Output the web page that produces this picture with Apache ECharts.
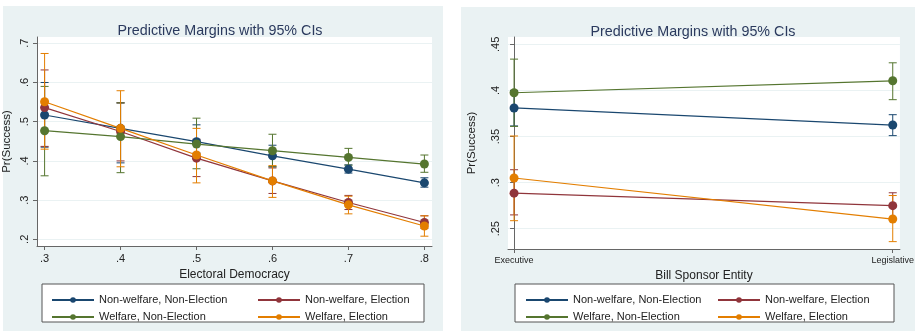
<!DOCTYPE html>
<html><head><meta charset="utf-8">
<script src="https://cdn.jsdelivr.net/npm/echarts@6/dist/echarts.min.js"></script>
<style>html,body{margin:0;padding:0;background:#fff;}#c{width:917px;height:332px;}</style>
</head><body><div id="c"></div>
<script>
// ---------- data ----------
const seriesNames = ['Non-welfare, Non-Election','Non-welfare, Election','Welfare, Non-Election','Welfare, Election'];
const colors = ['#1a476f','#90353b','#55752f','#e37e00'];

// Left panel: Electoral Democracy
const demX = [0.3,0.4,0.5,0.6,0.7,0.8];
const demXLabels = ['.3','.4','.5','.6','.7','.8'];
const demYTicks = [0.2,0.3,0.4,0.5,0.6,0.7];
const demYLabels = ['.2','.3','.4','.5','.6','.7'];
const demNN = [0.517,0.483,0.449,0.413,0.379,0.344];
const demNN_lo = [0.435,0.395,0.420,0.385,0.369,0.333];
const demNN_hi = [0.600,0.548,0.492,0.440,0.390,0.357];
const demNE = [0.536,0.475,0.407,0.349,0.294,0.243];
const demNE_lo = [0.437,0.400,0.360,0.317,0.276,0.228];
const demNE_hi = [0.632,0.548,0.455,0.382,0.312,0.260];
const demWN = [0.477,0.462,0.443,0.426,0.409,0.392];
const demWN_lo = [0.362,0.370,0.380,0.385,0.389,0.371];
const demWN_hi = [0.590,0.548,0.509,0.468,0.432,0.415];
const demWE = [0.551,0.483,0.415,0.349,0.288,0.234];
const demWE_lo = [0.430,0.385,0.344,0.307,0.265,0.208];
const demWE_hi = [0.674,0.579,0.483,0.388,0.310,0.260];

// Right panel: Bill Sponsor Entity
const sponsorCats = ['Executive','Legislative'];
const sponsorYTicks = [0.25,0.30,0.35,0.40,0.45];
const sponsorYLabels = ['.25','.3','.35','.4','.45'];
const spNN = [0.381,0.3625];
const spNN_lo = [0.3615,0.351];
const spNN_hi = [0.400,0.3737];
const spNE = [0.2886,0.275];
const spNE_lo = [0.265,0.261];
const spNE_hi = [0.314,0.289];
const spWN = [0.3975,0.4105];
const spWN_lo = [0.361,0.390];
const spWN_hi = [0.434,0.430];
const spWE = [0.305,0.2605];
const spWE_lo = [0.2587,0.236];
const spWE_hi = [0.3506,0.286];

// ---------- build ----------
const demSets = [[demNN,demNN_lo,demNN_hi],[demNE,demNE_lo,demNE_hi],[demWN,demWN_lo,demWN_hi],[demWE,demWE_lo,demWE_hi]];
const spSets = [[spNN,spNN_lo,spNN_hi],[spNE,spNE_lo,spNE_hi],[spWN,spWN_lo,spWN_hi],[spWE,spWE_lo,spWE_hi]];
const spX = sponsorCats.map((c,i)=>i);

const FONT = '"Liberation Sans", Arial, sans-serif';
const txt = '#222';
const axisCol = '#666';

function capRender(color){
  return function(params, api){
    const x = api.value(0), lo = api.value(1), hi = api.value(2);
    const pLo = api.coord([x, lo]), pHi = api.coord([x, hi]);
    const w = 4;
    const st = {stroke: color, lineWidth: 1};
    return {type:'group', children:[
      {type:'line', shape:{x1:pLo[0],y1:pLo[1],x2:pHi[0],y2:pHi[1]}, style:st},
      {type:'line', shape:{x1:pLo[0]-w,y1:pLo[1],x2:pLo[0]+w,y2:pLo[1]}, style:st},
      {type:'line', shape:{x1:pHi[0]-w,y1:pHi[1],x2:pHi[0]+w,y2:pHi[1]}, style:st}
    ]};
  };
}

const series = [];
function addPanel(sets, xs, idx){
  sets.forEach((s,k)=>{
    series.push({type:'custom', xAxisIndex:idx, yAxisIndex:idx, renderItem:capRender(colors[k]),
      data: xs.map((x,i)=>[x, s[1][i], s[2][i]]), z:2, silent:true, legendHoverLink:false});
  });
  sets.forEach((s,k)=>{
    series.push({type:'line', name:seriesNames[k], xAxisIndex:idx, yAxisIndex:idx,
      data: xs.map((x,i)=>[x, s[0][i]]), symbol:'circle', symbolSize:9,
      lineStyle:{color:colors[k], width:1.2}, itemStyle:{color:colors[k]}, z:3, silent:true});
  });
}
addPanel(demSets, demX, 0);
addPanel(spSets, spX, 1);

function yAxis(idx, min, max, ticks, labels, gap){
  return {type:'value', gridIndex:idx, min:min, max:max,
    name:'Pr(Success)', nameLocation:'middle', nameGap:gap, nameRotate:90,
    nameTextStyle:{color:txt, fontFamily:FONT, fontSize:11.5},
    axisLine:{show:true, lineStyle:{color:axisCol}},
    axisTick:{show:true, length:4, customValues:ticks, lineStyle:{color:axisCol}},
    axisLabel:{customValues:ticks, rotate:90, margin:7, color:txt, fontFamily:FONT, fontSize:11,
      formatter:(v)=>{const i=ticks.findIndex(t=>Math.abs(t-v)<1e-9); return i>=0?labels[i]:'';}},
    splitLine:{show:true, customValues:ticks, lineStyle:{color:'#eaf2f3', width:1}}};
}
function xAxis(idx, min, max, ticks, labels, name, fs){
  return {type:'value', gridIndex:idx, min:min, max:max,
    name:name, nameLocation:'middle', nameGap:21,
    nameTextStyle:{color:txt, fontFamily:FONT, fontSize:12},
    axisLine:{show:true, onZero:false, lineStyle:{color:axisCol}},
    axisTick:{show:true, length:4, customValues:ticks, lineStyle:{color:axisCol}},
    axisLabel:{customValues:ticks, margin:7, color:txt, fontFamily:FONT, fontSize:fs,
      formatter:(v)=>{const i=ticks.findIndex(t=>Math.abs(t-v)<1e-9); return i>=0?labels[i]:'';}},
    splitLine:{show:false}};
}

function legends(left1, left2){
  const base = {orient:'vertical', top:288.5, itemWidth:42, itemHeight:7, itemGap:4, selectedMode:false,
    textStyle:{color:txt, fontFamily:FONT, fontSize:11, lineHeight:13}};
  return [
    Object.assign({}, base, {left:left1, data:[seriesNames[0], seriesNames[2]]}),
    Object.assign({}, base, {left:left2, data:[seriesNames[1], seriesNames[3]]})
  ];
}

const chart = echarts.init(document.getElementById('c'), null, {renderer:'canvas'});
chart.setOption({
  animation:false,
  backgroundColor:'#ffffff',
  graphic:[
    {type:'rect', shape:{x:3,y:6,width:440,height:325}, style:{fill:'#eaf2f3'}, z:-10},
    {type:'rect', shape:{x:461,y:7,width:454,height:324}, style:{fill:'#eaf2f3'}, z:-10},
    {type:'rect', shape:{x:42,y:284,width:382,height:38}, style:{fill:'#fff', stroke:'#555', lineWidth:1}, z:-5},
    {type:'rect', shape:{x:515,y:284,width:379,height:38}, style:{fill:'#fff', stroke:'#555', lineWidth:1}, z:-5}
  ],
  title:[
    {text:'Predictive Margins with 95% CIs', left:215, top:19, textAlign:'center',
     textStyle:{color:'#2b3a5e', fontFamily:FONT, fontSize:14.3, fontWeight:'normal'}},
    {text:'Predictive Margins with 95% CIs', left:688, top:20, textAlign:'center',
     textStyle:{color:'#2b3a5e', fontFamily:FONT, fontSize:14.3, fontWeight:'normal'}}
  ],
  legend: legends(46, 252).concat(legends(520, 712)),
  grid:[
    {left:33, top:37, width:399, height:209, show:true, backgroundColor:'#fff', borderWidth:0},
    {left:508, top:37, width:395, height:212, show:true, backgroundColor:'#fff', borderWidth:0}
  ],
  xAxis:[
    xAxis(0, 0.29, 0.81, demX, demXLabels, 'Electoral Democracy', 11),
    xAxis(1, -0.016, 1.019, spX, sponsorCats, 'Bill Sponsor Entity', 9)
  ],
  yAxis:[
    yAxis(0, 0.183, 0.716, demYTicks, demYLabels, 24),
    yAxis(1, 0.228, 0.458, sponsorYTicks, sponsorYLabels, 30)
  ],
  series: series
});
</script></body></html>
